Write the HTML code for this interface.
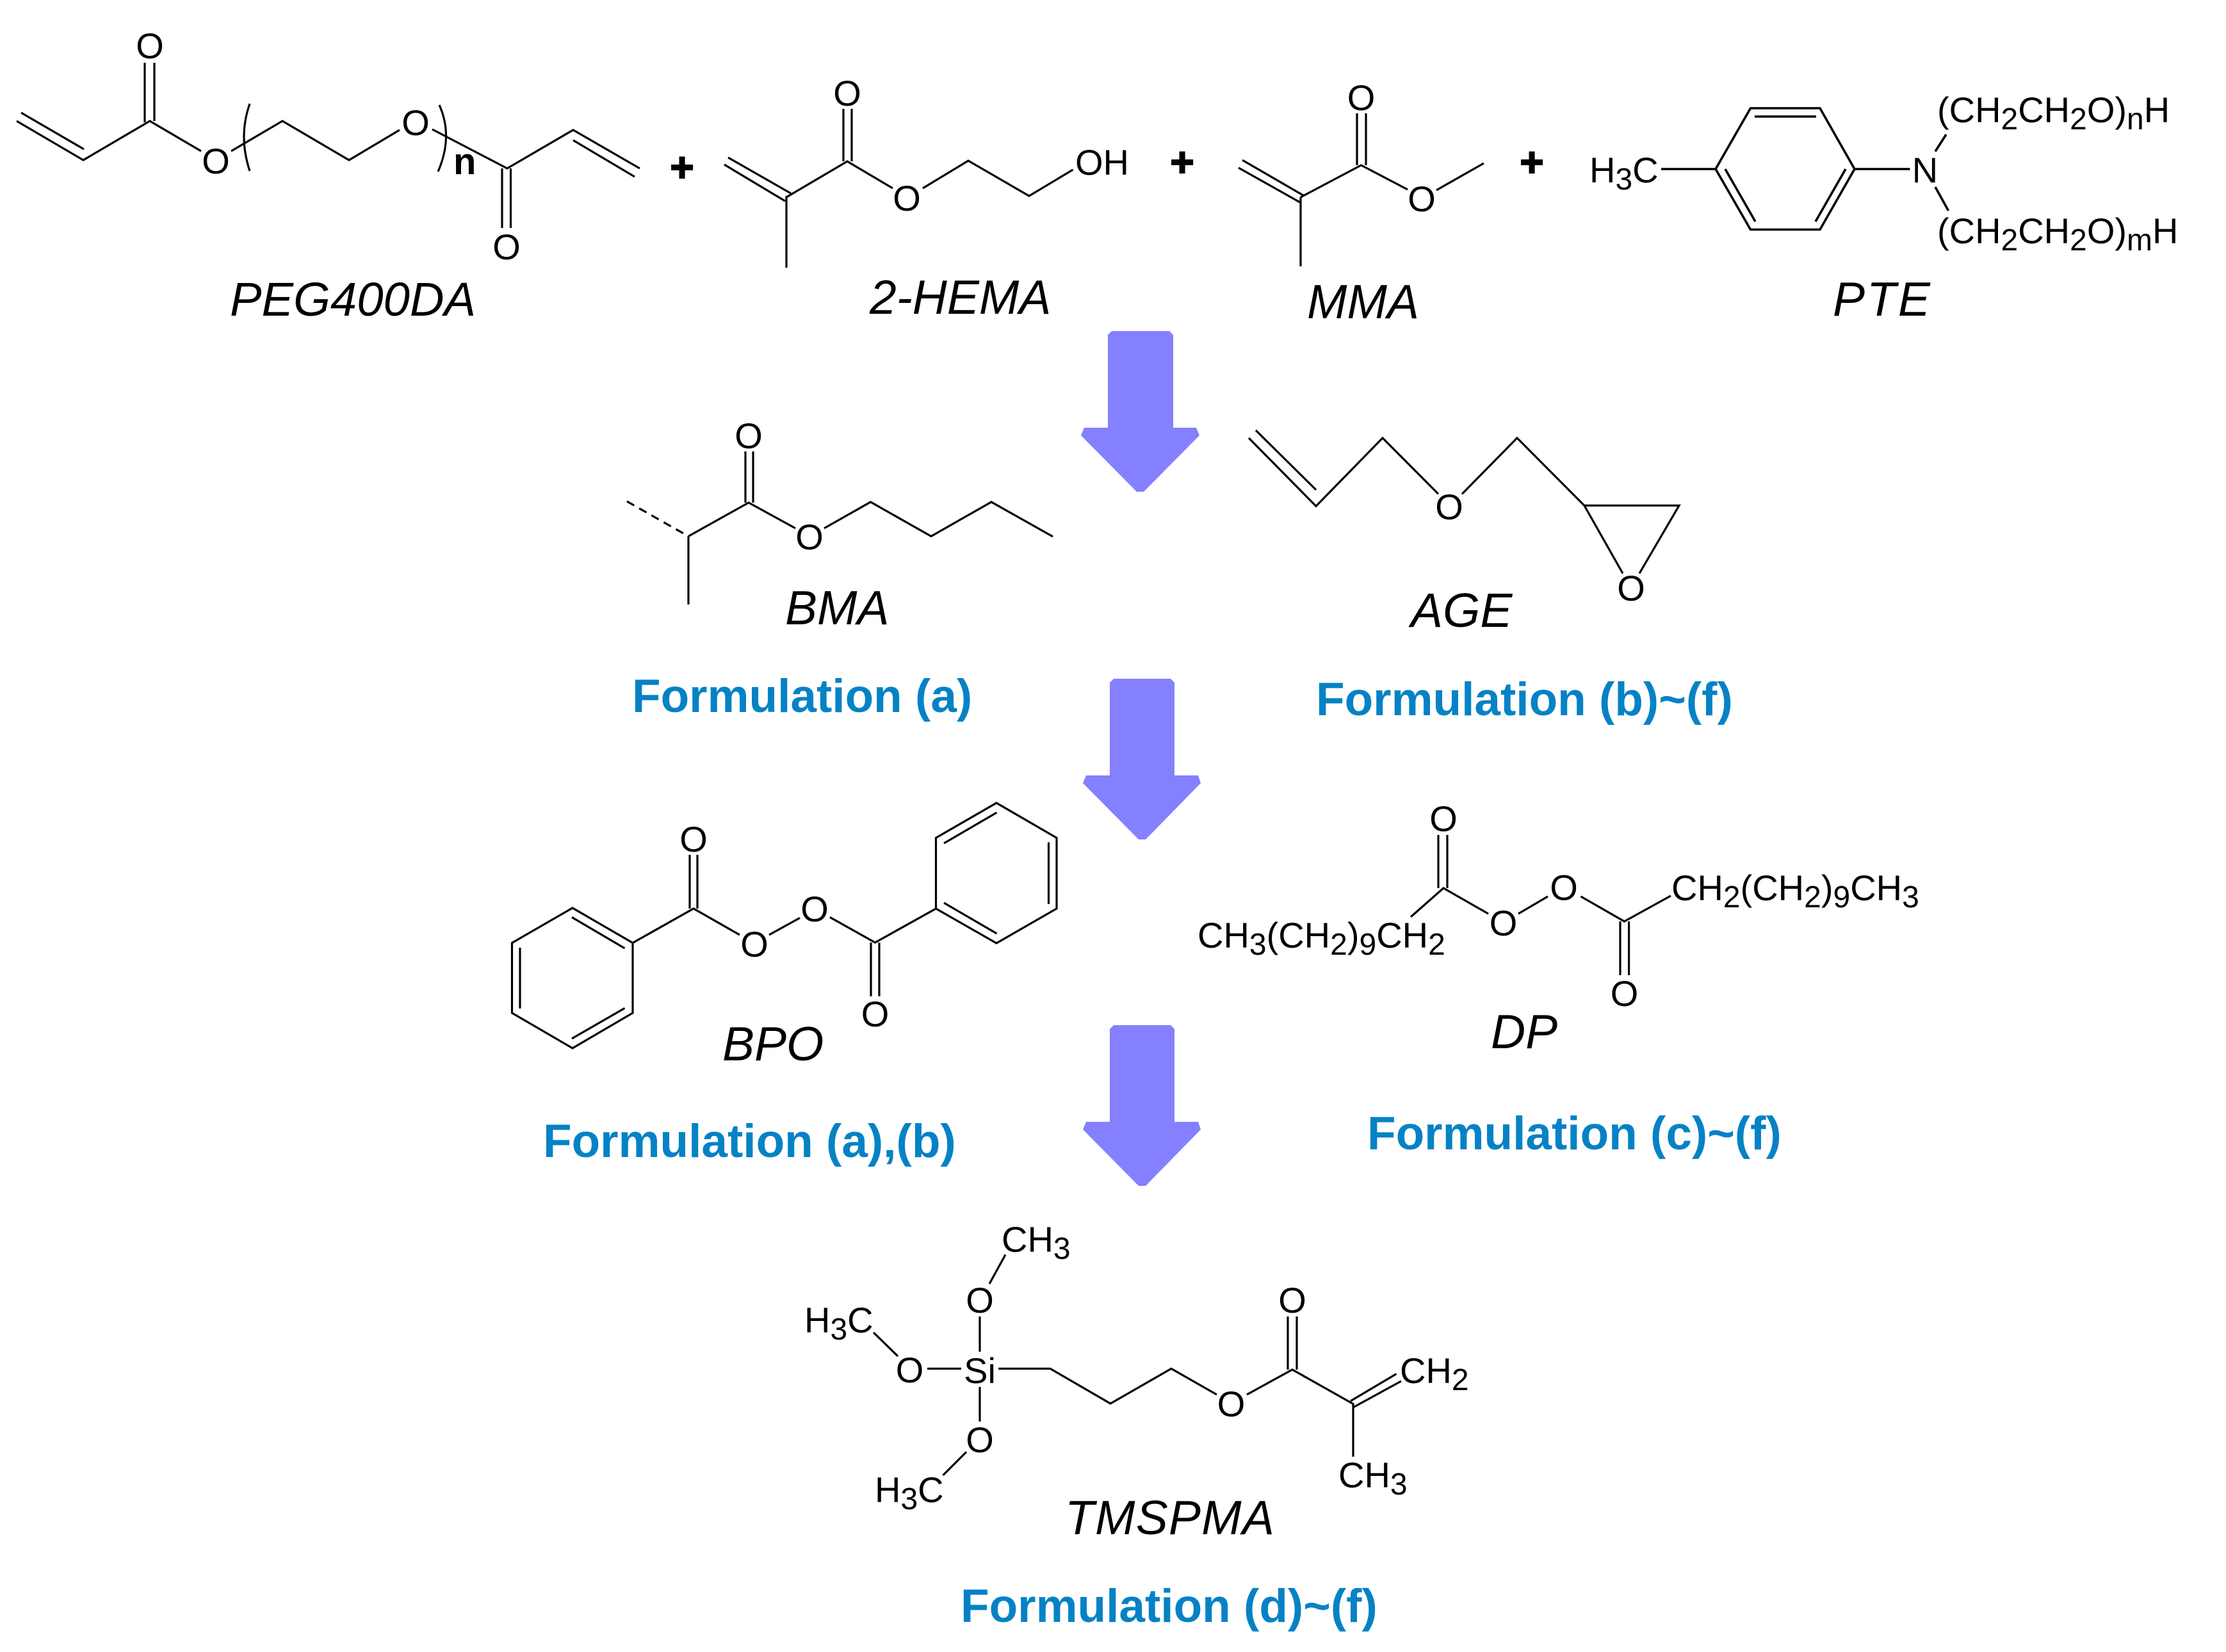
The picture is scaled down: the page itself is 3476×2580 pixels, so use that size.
<!DOCTYPE html>
<html><head><meta charset="utf-8"><style>
html,body{margin:0;padding:0;background:#fff}
svg{display:block}
text{font-family:"Liberation Sans",Arial,sans-serif;fill:#000}
.a{font-size:56px;text-anchor:middle}
.t{font-size:56px}
.l{font-size:75px;font-style:italic}
.f{font-size:73px;font-weight:bold;fill:#0582c5}
.p{font-size:64px;font-weight:bold;text-anchor:middle;stroke:#000;stroke-width:2}
.s{font-size:48px}
path{fill:none;stroke:#000;stroke-width:3.2;stroke-linejoin:miter;stroke-linecap:butt}
.ar{fill:#8480ff;stroke:none}
</style></head><body>
<svg xmlns="http://www.w3.org/2000/svg" width="3476" height="2580" viewBox="0 0 3476 2580">
<rect width="3476" height="2580" fill="#fff"/>

<!-- arrows -->
<path class="ar" d="M1736 517H1826L1832 523V668H1868L1873 680L1786 768H1775L1688 680L1693 668H1730V523Z"/>
<path class="ar" d="M1739 1060H1828L1834 1066V1211H1871L1875 1223L1789 1311H1778L1691 1223L1696 1211H1733V1066Z"/>
<path class="ar" d="M1739 1601H1828L1834 1607V1752H1871L1875 1764L1789 1852H1778L1691 1764L1696 1752H1733V1607Z"/>

<!-- PEG400DA -->
<g style="stroke-width:3.6">
<path d="M26 189L130 250L234 189L314 236M33 176L131 233M226 98V191M241 98V189M361 236L441 189L545 250L624 203M675 202L792 263L895 203L999 263M895 219L991 276M784 263V356M797.5 263V356"/>
<path d="M390 162Q372 213 390 267M686 164Q708 213 684 268"/>
</g>
<text class="a" x="234" y="91">O</text>
<text class="a" x="337" y="271">O</text>
<text class="a" x="649" y="211">O</text>
<text class="a" x="791" y="405">O</text>
<text x="708" y="272" style="font-size:58px;font-weight:bold">n</text>
<text class="p" x="1065" y="283">+</text>
<text class="l" x="359" y="493" style="font-size:74.3px">PEG400DA</text>

<!-- 2-HEMA -->
<path d="M1131 257L1226 314M1137 246L1235 302M1228 306V418M1228 308L1323 252L1394 294M1317 170V252M1330 170V252M1441 294L1512 251L1607 306L1675.5 265"/>
<text class="a" x="1323" y="165">O</text>
<text class="a" x="1416" y="329">O</text>
<text class="t" x="1679" y="273">OH</text>
<text class="p" x="1846" y="275">+</text>
<text class="l" x="1358" y="490">2-HEMA</text>

<!-- MMA -->
<path d="M1934 262L2030 316M1940 250L2035 305M2031 308V416M2031 308L2125.5 258L2198 296M2119 177V258M2133 177V258M2243 297L2317 255"/>
<text class="a" x="2125.5" y="172">O</text>
<text class="a" x="2220" y="330">O</text>
<text class="p" x="2392" y="275">+</text>
<text class="l" x="2041" y="497">MMA</text>

<!-- PTE -->
<path style="stroke-width:3.6" d="M2594 264H2679L2733.5 169H2842L2896 264L2842 358.5H2733.5L2679 264M2740 182H2836M2694 264L2741 346M2882 264L2835 346M2896 264H2982.5M3039 210L3022 236.5M3022 292L3042.5 329"/>
<text class="t" x="2482" y="285">H<tspan class="s" dy="11">3</tspan><tspan dy="-11">C</tspan></text>
<text class="a" x="3006" y="285">N</text>
<text class="t" x="3025" y="191">(CH<tspan class="s" dy="11">2</tspan><tspan dy="-11">CH</tspan><tspan class="s" dy="11">2</tspan><tspan dy="-11">O)</tspan><tspan class="s" dy="11">n</tspan><tspan dy="-11">H</tspan></text>
<text class="t" x="3025" y="380">(CH<tspan class="s" dy="11">2</tspan><tspan dy="-11">CH</tspan><tspan class="s" dy="11">2</tspan><tspan dy="-11">O)</tspan><tspan class="s" dy="11">m</tspan><tspan dy="-11">H</tspan></text>
<text class="l" x="2862" y="493" style="letter-spacing:3px">PTE</text>

<!-- BMA -->
<path stroke-dasharray="13 9" d="M979 783L1075 837.5"/>
<path d="M1075 837.5V944M1075 837.5L1169 785L1242 825M1164 705V785M1176 705V785M1287 825L1359.5 784L1454 837.5L1548 784L1644 838"/>
<text class="a" x="1169" y="700">O</text>
<text class="a" x="1264" y="858">O</text>
<text class="l" x="1226" y="975">BMA</text>
<text class="f" x="987" y="1112">Formulation (a)</text>

<!-- AGE -->
<path d="M1950 684L2055 790.5L2159 684L2246 771.5M1961 672L2055 765M2283 771.5L2369 684L2474 789.5H2622L2560 895.5M2474 789.5L2534 895.5"/>
<text class="a" x="2263" y="811">O</text>
<text class="a" x="2547" y="938">O</text>
<text class="l" x="2203" y="979">AGE</text>
<text class="f" x="2055" y="1117">Formulation (b)~(f)</text>

<!-- BPO -->
<path d="M988 1472.5L894 1418L799.5 1472.5V1582L894 1637L988 1582V1472.5L1083 1419L1155 1460M975.5 1481L893 1432.5M812 1480V1575M893 1622L975.5 1574.5M1077 1335V1419M1089 1335V1419M1201 1460L1249 1433.5M1296 1432.5L1366.5 1472L1461.5 1419V1308.5L1556 1254L1650 1308.5V1419L1556 1473L1461.5 1419M1360 1472V1556M1373 1472V1556M1474 1317L1556.5 1269M1637.5 1315.5V1412M1474 1410L1556.5 1458"/>
<text class="a" x="1083" y="1330">O</text>
<text class="a" x="1178" y="1494">O</text>
<text class="a" x="1272" y="1439">O</text>
<text class="a" x="1366.5" y="1603">O</text>
<text class="l" x="1128" y="1656">BPO</text>
<text class="f" x="848" y="1807">Formulation (a),(b)</text>

<!-- DP -->
<path d="M2203 1432L2254 1387L2324 1427M2246 1304V1387M2260 1304V1387M2371 1427L2417 1400M2468.5 1400L2536.5 1439L2609 1399M2530 1439V1523M2543.6 1439V1523"/>
<text class="a" x="2254" y="1298">O</text>
<text class="a" x="2347.5" y="1461">O</text>
<text class="a" x="2442" y="1405.5">O</text>
<text class="a" x="2536.5" y="1571">O</text>
<text class="t" x="1870" y="1480">CH<tspan class="s" dy="11">3</tspan><tspan dy="-11">(CH</tspan><tspan class="s" dy="11">2</tspan><tspan dy="-11">)</tspan><tspan class="s" dy="11">9</tspan><tspan dy="-11">CH</tspan><tspan class="s" dy="11">2</tspan></text>
<text class="t" x="2610" y="1406">CH<tspan class="s" dy="11">2</tspan><tspan dy="-11">(CH</tspan><tspan class="s" dy="11">2</tspan><tspan dy="-11">)</tspan><tspan class="s" dy="11">9</tspan><tspan dy="-11">CH</tspan><tspan class="s" dy="11">3</tspan></text>
<text class="l" x="2328" y="1637">DP</text>
<text class="f" x="2135" y="1795">Formulation (c)~(f)</text>

<!-- TMSPMA -->
<path d="M1570 1959.5L1545 2005M1530 2056V2111M1559 2137.5H1640L1734 2192L1829 2137.5L1900 2178M1448 2137.5H1501M1402 2118L1364 2081M1530 2166V2220M1509 2267.5L1472.5 2304M1947 2178L2018 2139L2113 2192.5V2275M2011 2056V2139M2025 2056V2139M2109 2188L2180.5 2145.6M2113 2198L2188 2157"/>
<text class="t" x="1564" y="1955">CH<tspan class="s" dy="11">3</tspan></text>
<text class="a" x="1530" y="2160">Si</text>
<text class="a" x="1530" y="2050">O</text>
<text class="a" x="1420.5" y="2159">O</text>
<text class="t" x="1256" y="2081">H<tspan class="s" dy="11">3</tspan><tspan dy="-11">C</tspan></text>
<text class="a" x="1530" y="2268">O</text>
<text class="t" x="1366" y="2346">H<tspan class="s" dy="11">3</tspan><tspan dy="-11">C</tspan></text>
<text class="a" x="1922.5" y="2212">O</text>
<text class="a" x="2018" y="2050">O</text>
<text class="t" x="2186" y="2160">CH<tspan class="s" dy="11">2</tspan></text>
<text class="t" x="2090" y="2323">CH<tspan class="s" dy="11">3</tspan></text>
<text class="l" x="1663" y="2396" style="letter-spacing:1.2px">TMSPMA</text>
<text class="f" x="1500" y="2533">Formulation (d)~(f)</text>
</svg>
</body></html>
